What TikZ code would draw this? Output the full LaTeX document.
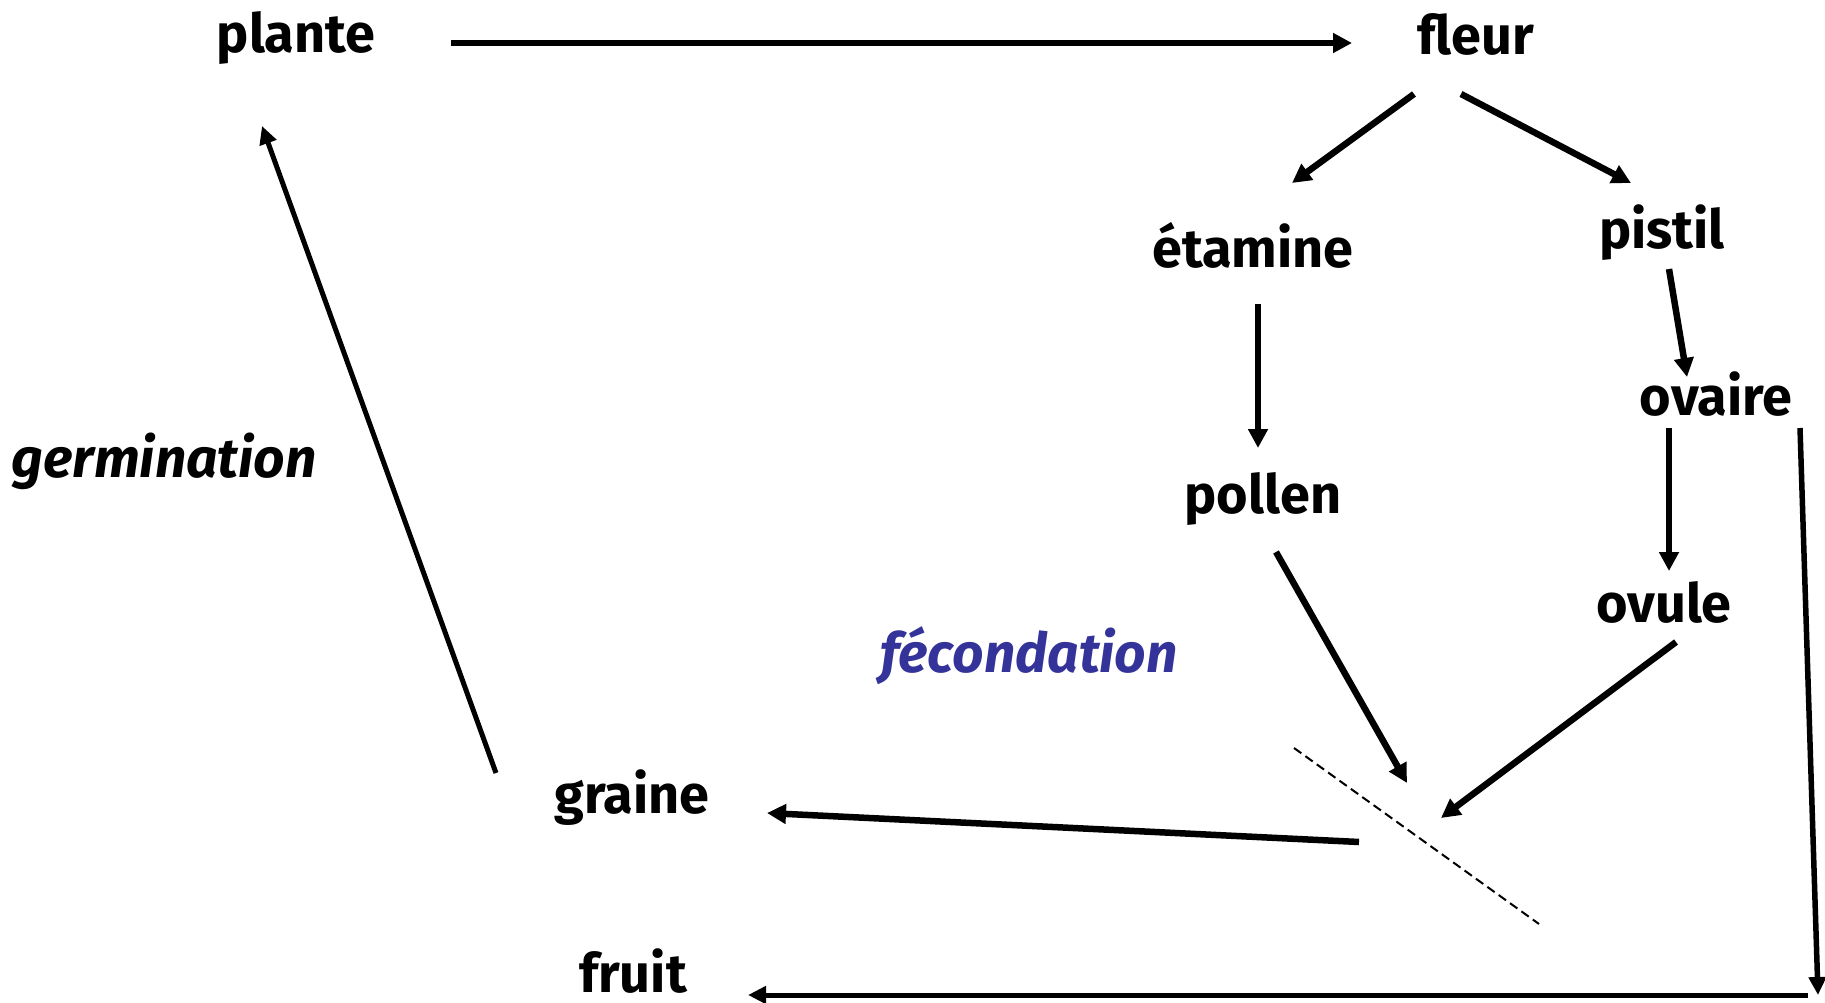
\documentclass[tikz,border=0pt]{standalone}
\usepackage{fontspec}
\setmainfont{Fira Sans}
\usetikzlibrary{arrows.meta,calc}
\definecolor{fecblue}{RGB}{51,51,153}
\begin{document}
\begin{tikzpicture}[x=1pt,y=-1pt,
  lbl/.style={anchor=base,inner sep=0pt,font=\fontsize{54}{64}\selectfont\bfseries},
  ilbl/.style={lbl,font=\fontsize{55}{64}\selectfont\bfseries\itshape},
  arr/.style={line width=6.5pt,-{Triangle[length=19pt,width=19pt]}},
  thinarr/.style={arr,line width=5pt,-{Triangle[length=18pt,width=17pt]}},
  midarr/.style={arr,line width=5.5pt,-{Triangle[length=18pt,width=17pt]}},
  dashline/.style={line width=2pt,dash pattern=on 9pt off 5pt}]
\useasboundingbox (0,0) rectangle (1825,1003);
\node[lbl] (plante) at (296,53) {plante};
\node[lbl] (fleur) at (1476,55) {fleur};
\node[lbl] (etamine) at (1253,267) {étamine};
\node[lbl] (pistil) at (1662,248) {pistil};
\node[lbl] (ovaire) at (1716,415) {ovaire};
\node[lbl] (pollen) at (1263,513) {pollen};
\node[lbl] (ovule) at (1664,622) {ovule};
\node[lbl] (graine) at (632,813) {graine};
\node[lbl] (fruit) at (633,992) {fruit};
\node[ilbl] (germ) at (164,477) {germination};
\node[ilbl,text=fecblue] (fec) at (1029,672) {fécondation};
\coordinate (d1) at (1294,748);
\coordinate (d2) at (1539,924);
\coordinate (m) at ($(d1)!0.5!(d2)$);
\coordinate (corner) at (1818,995);
% connectors
\draw[arr] ([shift={(155,-10)}]plante.base) -- ([shift={(-124,-12)}]fleur.base);
\draw[arr] ([shift={(-62,39)}]fleur.base) -- ([shift={(39,-84)}]etamine.base);
\draw[arr] ([shift={(-15,39)}]fleur.base) -- ([shift={(-31,-65)}]pistil.base);
\draw[arr] ([shift={(5,37)}]etamine.base) -- ([shift={(-5,-65)}]pollen.base);
\draw[arr] ([shift={(7,21)}]pistil.base) -- ([shift={(-29,-38)}]ovaire.base);
\draw[arr] ([shift={(-47,13)}]ovaire.base) -- ([shift={(5,-51)}]ovule.base);
\draw[midarr] ([shift={(84,13)}]ovaire.base) -- (corner);
\draw[thinarr] ([xshift=-10pt]corner) -- ([shift={(115,3)}]fruit.base);
\draw[arr] ([shift={(13,39)}]pollen.base) -- ([shift={(-9.5,-53)}]m);
\draw[arr] ([shift={(12,20)}]ovule.base) -- ([shift={(24.5,-18)}]m);
\draw[arr] ([shift={(-57.5,6)}]m) -- ([shift={(135,0)}]graine.base);
\draw[thinarr] ([shift={(-136,-40)}]graine.base) -- ([shift={(-34,73)}]plante.base);
\draw[dashline] (d1) -- (d2);
\end{tikzpicture}
\end{document}
